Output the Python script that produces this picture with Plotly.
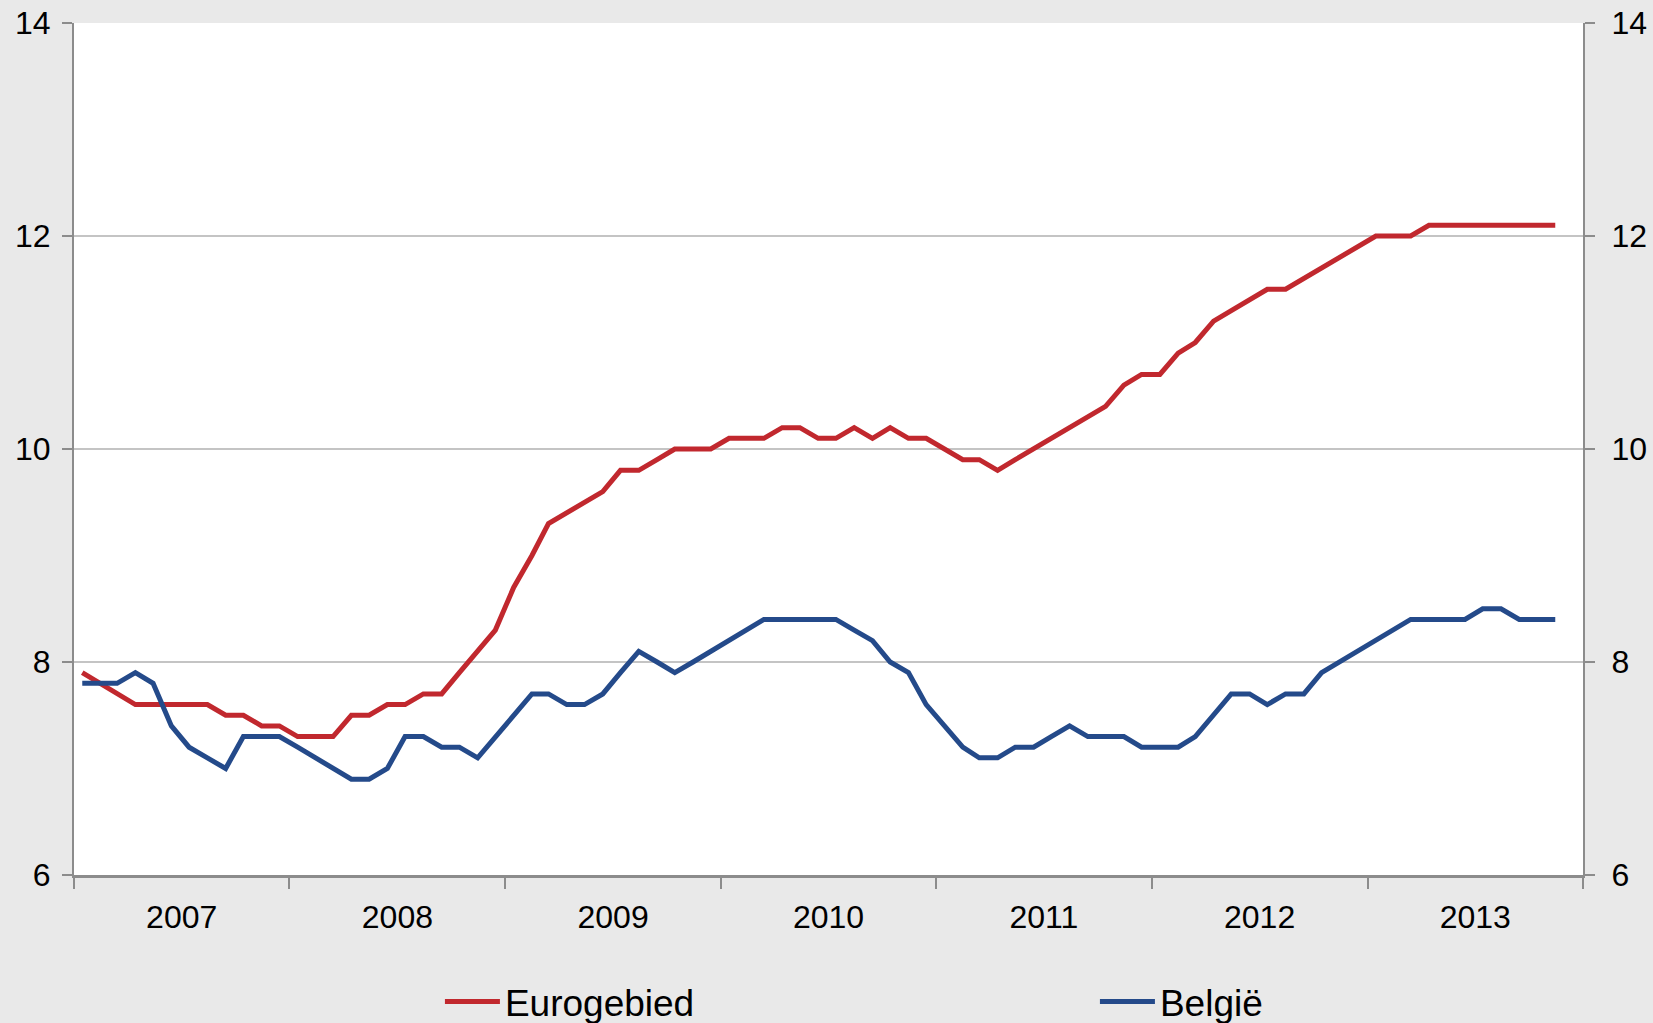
import pandas as pd
import plotly.graph_objs as go

# monthly observations, Jan 2007 - Nov 2013
months = pd.date_range('2007-01-01', periods=83, freq='MS') + pd.Timedelta(days=14)

eurogebied = [
    7.9, 7.8, 7.7, 7.6, 7.6, 7.6, 7.6, 7.6, 7.5, 7.5,
    7.4, 7.4, 7.3, 7.3, 7.3, 7.5, 7.5, 7.6, 7.6, 7.7,
    7.7, 7.9, 8.1, 8.3, 8.7, 9.0, 9.3, 9.4, 9.5, 9.6,
    9.8, 9.8, 9.9, 10.0, 10.0, 10.0, 10.1, 10.1, 10.1, 10.2,
    10.2, 10.1, 10.1, 10.2, 10.1, 10.2, 10.1, 10.1, 10.0, 9.9,
    9.9, 9.8, 9.9, 10.0, 10.1, 10.2, 10.3, 10.4, 10.6, 10.7,
    10.7, 10.9, 11.0, 11.2, 11.3, 11.4, 11.5, 11.5, 11.6, 11.7,
    11.8, 11.9, 12.0, 12.0, 12.0, 12.1, 12.1, 12.1, 12.1, 12.1,
    12.1, 12.1, 12.1,
]

belgie = [
    7.8, 7.8, 7.8, 7.9, 7.8, 7.4, 7.2, 7.1, 7.0, 7.3,
    7.3, 7.3, 7.2, 7.1, 7.0, 6.9, 6.9, 7.0, 7.3, 7.3,
    7.2, 7.2, 7.1, 7.3, 7.5, 7.7, 7.7, 7.6, 7.6, 7.7,
    7.9, 8.1, 8.0, 7.9, 8.0, 8.1, 8.2, 8.3, 8.4, 8.4,
    8.4, 8.4, 8.4, 8.3, 8.2, 8.0, 7.9, 7.6, 7.4, 7.2,
    7.1, 7.1, 7.2, 7.2, 7.3, 7.4, 7.3, 7.3, 7.3, 7.2,
    7.2, 7.2, 7.3, 7.5, 7.7, 7.7, 7.6, 7.7, 7.7, 7.9,
    8.0, 8.1, 8.2, 8.3, 8.4, 8.4, 8.4, 8.4, 8.5, 8.5,
    8.4, 8.4, 8.4,
]

y_ticks = [6, 8, 10, 12, 14]

font = dict(family='Liberation Sans, Arial, sans-serif', color='black')
axis_grey = '#8C8C8C'

fig = go.Figure()

fig.add_trace(go.Scatter(
    x=months, y=belgie, name='België', mode='lines',
    line=dict(color='#244A8A', width=5),
    yaxis='y2',
))
fig.add_trace(go.Scatter(
    x=months, y=eurogebied, name='Eurogebied', mode='lines',
    line=dict(color='#C1282E', width=5),
))

yaxis_dict = dict(
    range=[6, 14], tickvals=y_ticks, showgrid=True, gridcolor='#C4C4C4', gridwidth=1.5,
    showline=True, linecolor=axis_grey, linewidth=2,
    ticks='outside', ticklen=10, tickcolor=axis_grey, tickwidth=2,
    tickfont=dict(size=32, **font), zeroline=False,
)

fig.update_layout(
    width=1653, height=1023,
    paper_bgcolor='#E9E9E9', plot_bgcolor='white',
    margin=dict(l=74, r=70, t=23, b=148, autoexpand=False),
    showlegend=True,
    legend=dict(
        orientation='h', x=0.2425, xanchor='left', y=-0.149, yanchor='middle',
        traceorder='reversed', font=dict(size=37, **font),
        entrywidthmode='pixels', entrywidth=585, itemwidth=55,
        bgcolor='rgba(0,0,0,0)',
    ),
    xaxis=dict(
        type='date', range=['2007-01-01', '2014-01-01'],
        tick0='2007-01-01', dtick='M12', ticklabelmode='period', tickformat='%Y',
        ticks='outside', ticklen=11, tickcolor=axis_grey, tickwidth=1.5,
        showline=True, linecolor=axis_grey, linewidth=3, showgrid=False,
        tickfont=dict(size=32, **font), ticklabelstandoff=1,
    ),
    yaxis=dict(side='left', ticklabelstandoff=5, **yaxis_dict),
    yaxis2=dict(side='right', overlaying='y', ticklabelstandoff=10, **yaxis_dict),
)
fig.update_layout(yaxis2=dict(showgrid=False))

fig.write_html('out.html', config={'displayModeBar': False},
               post_script="document.body.style.margin='0';")
